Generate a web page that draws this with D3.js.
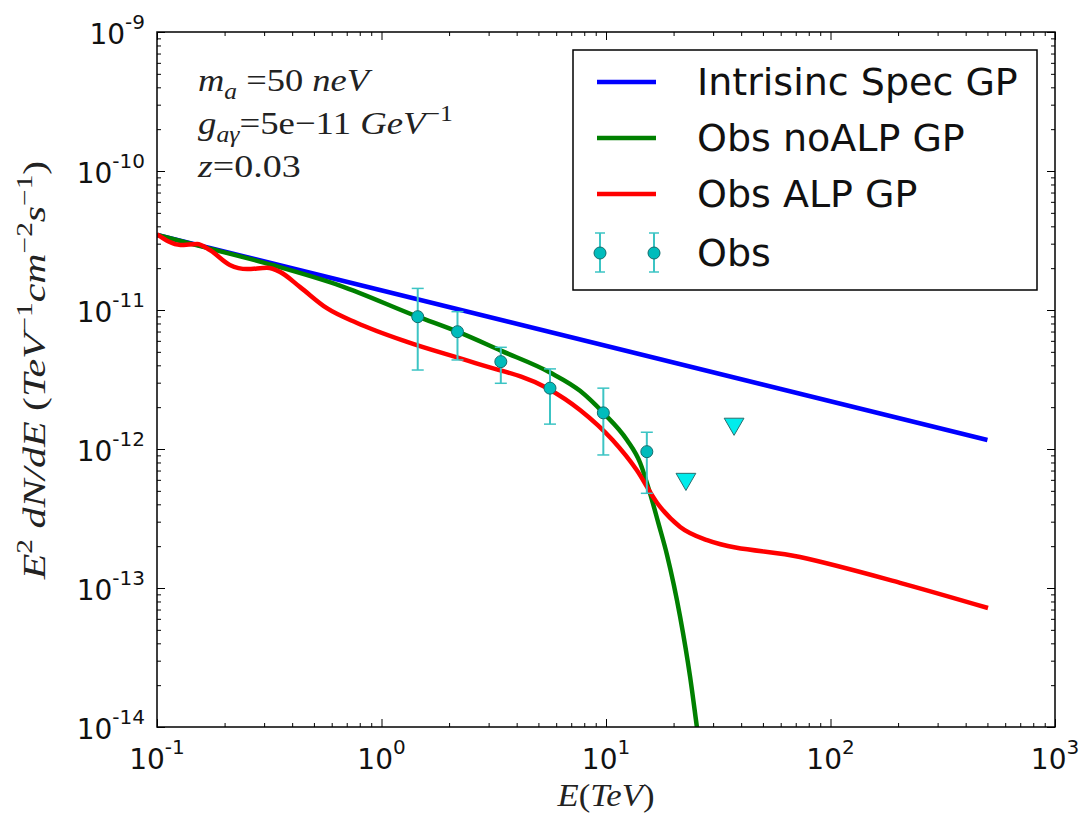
<!DOCTYPE html>
<html>
<head>
<meta charset="utf-8">
<script src="https://cdn.jsdelivr.net/npm/d3@7"></script>
<style>
  body { margin: 0; background: #fff; }
  svg { display: block; }
</style>
</head>
<body>
<div id="chart"></div>
<script>
// values: E in TeV, E^2 dN/dE in TeV^-1 cm^-2 s^-1
const intrinsicGP = [[0.1, 3.47e-11], [500, 1.16e-12]];

const noAlpGP = [
  [0.1, 3.47e-11], [0.167, 2.80e-11], [0.329, 2.10e-11], [0.653, 1.50e-11],
  [1.45, 8.95e-12], [2.18, 6.98e-12], [3.40, 5.10e-12], [5.63, 3.55e-12],
  [7.66, 2.62e-12], [9.73, 1.82e-12], [12.4, 1.16e-12], [14.2, 7.93e-13],
  [15.7, 4.82e-13], [17.1, 2.94e-13], [18.7, 1.73e-13], [21.4, 6.18e-14],
  [23.7, 2.29e-14], [25.4, 1.0e-14], [26.5, 6e-15]
];

const alpGP = [
  [0.1, 3.5e-11], [0.127, 2.94e-11], [0.151, 2.99e-11], [0.172, 2.70e-11],
  [0.211, 2.11e-11], [0.252, 1.97e-11], [0.309, 2.01e-11], [0.353, 1.88e-11],
  [0.434, 1.46e-11], [0.571, 1.03e-11], [0.778, 8.06e-12], [1.30, 5.89e-12],
  [2.6, 4.16e-12], [5.46, 2.75e-12], [7.66, 1.91e-12], [10.7, 1.16e-12],
  [13.7, 7.06e-13], [16.9, 4.09e-13], [21.4, 2.75e-13], [28.2, 2.21e-13],
  [73.1, 1.67e-13], [204, 1.09e-13], [503, 7.18e-14]
];

const obsE    = [1.45, 2.18, 3.40, 5.63, 9.73, 15.2];
const obsFlux = [8.95e-12, 6.98e-12, 4.25e-12, 2.74e-12, 1.82e-12, 9.57e-13];
const obsLow  = [3.70e-12, 4.37e-12, 2.97e-12, 1.51e-12, 9.06e-13, 4.80e-13];
const obsHigh = [1.43e-11, 9.73e-12, 5.39e-12, 3.77e-12, 2.74e-12, 1.32e-12];

const limitE    = [22.7, 37.2];
const limitFlux = [6.18e-13, 1.54e-12];

const xTickExps = [-1, 0, 1, 2, 3];
const yTickExps = [-14, -13, -12, -11, -10, -9];
const legendLabels = ["Intrisinc Spec GP", "Obs noALP GP", "Obs ALP GP", "Obs"];
const lineColors = ["#0000ff", "#008000", "#ff0000"];

const W = 1084, H = 815;
const plotL = 157, plotR = 1055, plotT = 32, plotB = 727;

const svg = d3.select("#chart").append("svg")
  .attr("width", W).attr("height", H);

const x = d3.scaleLog().domain([0.1, 1000]).range([plotL, plotR]);
const y = d3.scaleLog().domain([1e-14, 1e-9]).range([plotB, plotT]);

svg.append("defs").append("clipPath").attr("id", "plotClip")
  .append("rect")
  .attr("x", plotL).attr("y", plotT)
  .attr("width", plotR - plotL).attr("height", plotB - plotT);

const plot = svg.append("g").attr("clip-path", "url(#plotClip)");

const line = d3.line()
  .x(d => x(d[0]))
  .y(d => y(d[1]))
  .curve(d3.curveMonotoneX);

[intrinsicGP, noAlpGP, alpGP].forEach((series, i) => {
  plot.append("path")
    .datum(series)
    .attr("fill", "none")
    .attr("stroke", lineColors[i])
    .attr("stroke-width", 4.5)
    .attr("stroke-linejoin", "round")
    .attr("d", line);
});

// error bars + points
const obs = obsE.map((e, i) => ({ e, f: obsFlux[i], lo: obsLow[i], hi: obsHigh[i] }));
const errColor = "#3cc4c4";
const eb = plot.append("g").selectAll("g").data(obs).enter().append("g");
eb.append("line")
  .attr("x1", d => x(d.e)).attr("x2", d => x(d.e))
  .attr("y1", d => y(d.lo)).attr("y2", d => y(d.hi))
  .attr("stroke", errColor).attr("stroke-width", 2);
eb.append("line")
  .attr("x1", d => x(d.e) - 6).attr("x2", d => x(d.e) + 6)
  .attr("y1", d => y(d.lo)).attr("y2", d => y(d.lo))
  .attr("stroke", errColor).attr("stroke-width", 1.5);
eb.append("line")
  .attr("x1", d => x(d.e) - 6).attr("x2", d => x(d.e) + 6)
  .attr("y1", d => y(d.hi)).attr("y2", d => y(d.hi))
  .attr("stroke", errColor).attr("stroke-width", 1.5);
eb.append("circle")
  .attr("cx", d => x(d.e)).attr("cy", d => y(d.f)).attr("r", 6)
  .attr("fill", "#00bcbc").attr("stroke", "#156c6c").attr("stroke-width", 1);

const tri = d3.symbol().type(d3.symbolTriangle).size(170);
plot.append("g").selectAll("path")
  .data(limitE.map((e, i) => [e, limitFlux[i]]))
  .enter().append("path")
  .attr("d", tri)
  .attr("transform", d => `translate(${x(d[0])},${y(d[1]) + 1}) rotate(180)`)
  .attr("fill", "#00ecec").attr("stroke", "#2a6e6e").attr("stroke-width", 1);

// ticks (inside, all four sides)
const majX = xTickExps.map(k => Math.pow(10, k));
const majY = yTickExps.map(k => Math.pow(10, k));
const minX = x.ticks().filter(v => !majX.some(m => Math.abs(m - v) / m < 1e-6));
const minY = y.ticks().filter(v => !majY.some(m => Math.abs(m - v) / m < 1e-6));

function drawAxis(axis, tr, values, size) {
  const g = svg.append("g").attr("transform", tr)
    .call(axis.tickValues(values).tickSize(size).tickFormat(""));
  g.select(".domain").remove();
  g.selectAll("line").attr("stroke", "#000").attr("stroke-width", 1);
}
drawAxis(d3.axisBottom(x), `translate(0,${plotB})`, majX, -8);
drawAxis(d3.axisBottom(x), `translate(0,${plotB})`, minX, -4);
drawAxis(d3.axisTop(x), `translate(0,${plotT})`, majX, -8);
drawAxis(d3.axisTop(x), `translate(0,${plotT})`, minX, -4);
drawAxis(d3.axisLeft(y), `translate(${plotL},0)`, majY, -8);
drawAxis(d3.axisLeft(y), `translate(${plotL},0)`, minY, -4);
drawAxis(d3.axisRight(y), `translate(${plotR},0)`, majY, -8);
drawAxis(d3.axisRight(y), `translate(${plotR},0)`, minY, -4);

svg.append("rect")
  .attr("x", plotL).attr("y", plotT)
  .attr("width", plotR - plotL).attr("height", plotB - plotT)
  .attr("fill", "none").attr("stroke", "#000").attr("stroke-width", 1.5);

// tick labels
const tickFont = "DejaVu Sans";
svg.append("g").selectAll("text").data(xTickExps).enter().append("text")
  .attr("x", k => x(Math.pow(10, k)))
  .attr("y", plotB + 42)
  .attr("text-anchor", "middle")
  .attr("font-family", tickFont).attr("font-size", 28).attr("fill", "#111")
  .each(function (k) {
    const t = d3.select(this);
    t.append("tspan").text("10");
    t.append("tspan").attr("dy", -15).attr("font-size", 20).text(k);
  });

svg.append("g").selectAll("text").data(yTickExps).enter().append("text")
  .attr("x", plotL - 12)
  .attr("y", k => y(Math.pow(10, k)) + 12)
  .attr("text-anchor", "end")
  .attr("font-family", tickFont).attr("font-size", 28).attr("fill", "#111")
  .each(function (k) {
    const t = d3.select(this);
    t.append("tspan").text("10");
    t.append("tspan").attr("dy", -15).attr("font-size", 20).text(k);
  });

// math-style text: parts = [text, style] ; style: i italic, r roman, sup, sub
// the text is stretched sideways to the width it has in the picture (CM is wider than Times)
const mathFont = "Liberation Serif";
const mathSize = 32;
function mathText(tr, anchor, parts, width) {
  const g = svg.append("g");
  const t = g.append("text")
    .attr("text-anchor", anchor)
    .attr("font-family", mathFont).attr("font-size", mathSize).attr("fill", "#222");
  let shift = 0;
  parts.forEach(([txt, st]) => {
    const ts = t.append("tspan").text(txt);
    let target = 0;
    if (st.includes("sup")) target = -0.42 * mathSize;
    if (st.includes("sub")) target = 0.25 * mathSize;
    ts.attr("dy", target - shift);
    shift = target;
    if (st.includes("sup") || st.includes("sub")) ts.attr("font-size", mathSize * 0.7);
    ts.attr("font-style", st.includes("i") ? "italic" : "normal");
  });
  const w = t.node().getBBox().width;
  g.attr("transform", `${tr} scale(${width / w},1)`);
}

// annotation
const ann = [
  [["m", "i"], ["a", "i sub"], [" =50 ", "r"], ["neV", "i"]],
  [["g", "i"], ["aγ", "i sub"], ["=5e−11 ", "r"], ["GeV", "i"], ["−1", "r sup"]],
  [["z", "i"], ["=0.03", "r"]]
];
const annY = [91, 134, 177];
const annW = [175, 255, 104];
ann.forEach((parts, i) => mathText(`translate(198,${annY[i]})`, "start", parts, annW[i]));

// axis labels
mathText(`translate(${(plotL + plotR) / 2},806)`, "middle",
  [["E", "i"], ["(", "r"], ["TeV", "i"], [")", "r"]], 98);

mathText(`translate(45,370) rotate(-90)`, "middle", [
  ["E", "i"], ["2", "r sup"], [" dN/dE", "i"], ["  (", "r"], ["TeV", "i"], ["−1", "r sup"],
  ["cm", "i"], ["−2", "r sup"], ["s", "i"], ["−1", "r sup"], [")", "r"]
], 420);

// legend
const lg = svg.append("g");
lg.append("rect")
  .attr("x", 573).attr("y", 50).attr("width", 464).attr("height", 240)
  .attr("fill", "#fff").attr("stroke", "#000").attr("stroke-width", 1.5);
const rowY = [82, 138, 194, 253];
legendLabels.forEach((lab, i) => {
  if (i < 3) {
    lg.append("line")
      .attr("x1", 597).attr("x2", 656).attr("y1", rowY[i]).attr("y2", rowY[i])
      .attr("stroke", lineColors[i]).attr("stroke-width", 4.5);
  } else {
    [600, 654].forEach(cx => {
      lg.append("line").attr("x1", cx).attr("x2", cx)
        .attr("y1", rowY[i] - 20).attr("y2", rowY[i] + 19)
        .attr("stroke", errColor).attr("stroke-width", 2);
      [rowY[i] - 20, rowY[i] + 19].forEach(cy => lg.append("line")
        .attr("x1", cx - 5).attr("x2", cx + 5).attr("y1", cy).attr("y2", cy)
        .attr("stroke", errColor).attr("stroke-width", 1.5));
      lg.append("circle").attr("cx", cx).attr("cy", rowY[i]).attr("r", 6)
        .attr("fill", "#00bcbc").attr("stroke", "#156c6c");
    });
  }
  lg.append("text")
    .attr("x", 697).attr("y", rowY[i] + 13)
    .attr("font-family", tickFont).attr("font-size", 38).attr("fill", "#111")
    .text(lab);
});
</script>
</body>
</html>
